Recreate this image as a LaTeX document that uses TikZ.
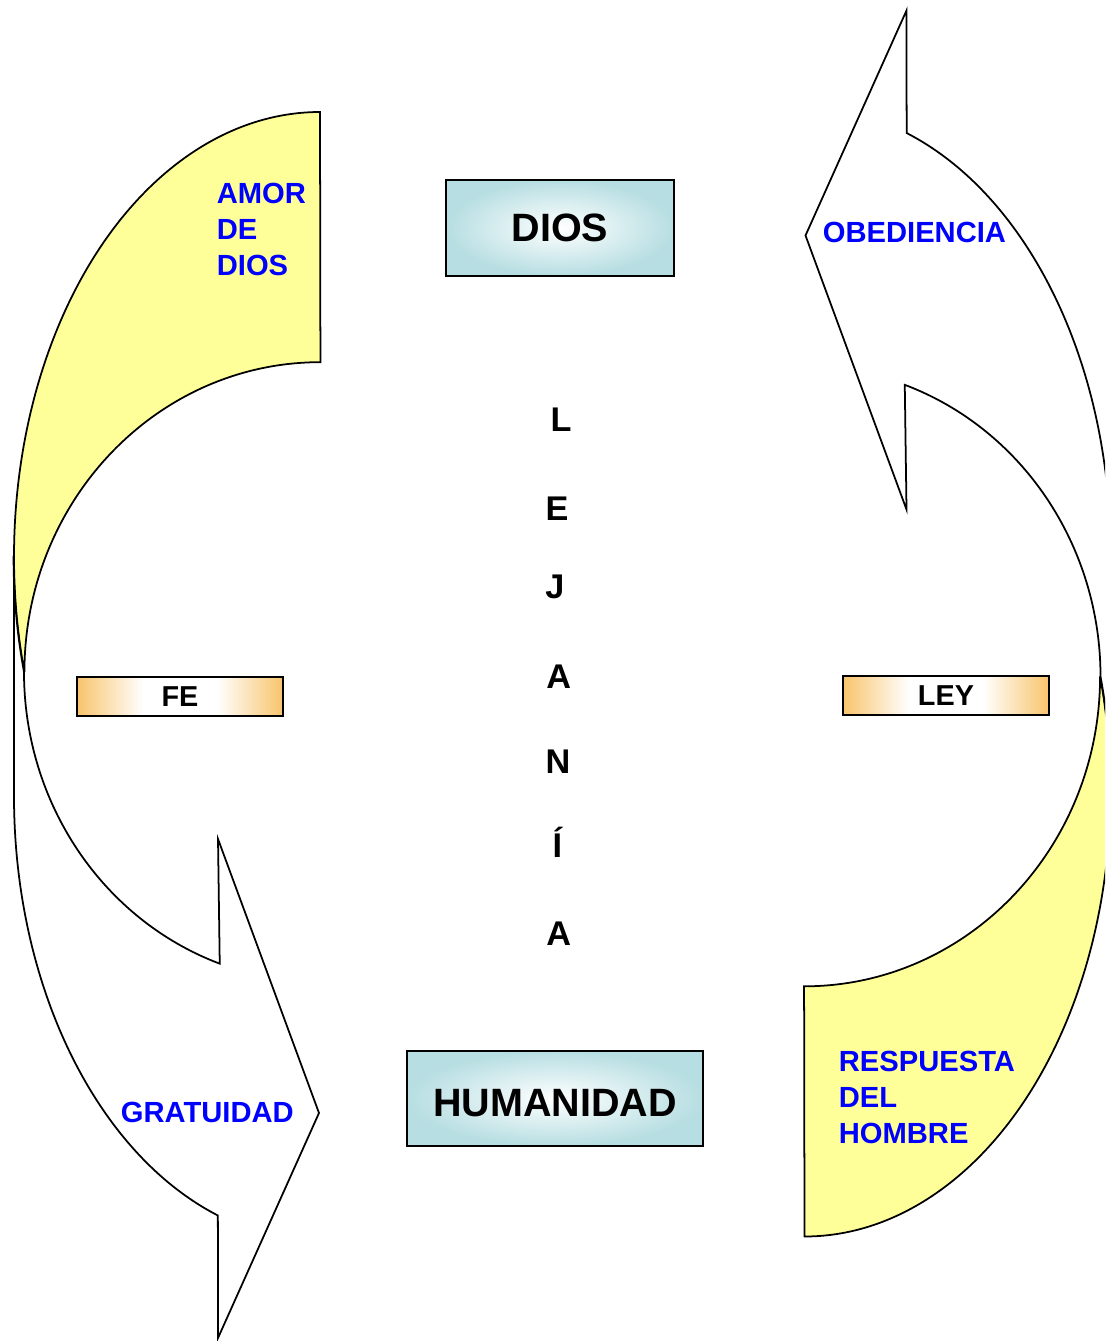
\documentclass[tikz,border=0pt]{standalone}
\usepackage{fontspec}
\setmainfont{Liberation Sans}
\definecolor{bandyellow}{RGB}{255,255,153}
\definecolor{boxteal}{RGB}{183,222,226}
\definecolor{boxorange}{RGB}{248,196,108}
\pgfdeclarehorizontalshading{virtueshade}{100bp}{color(0bp)=(boxorange); color(25bp)=(boxorange); color(41bp)=(white); color(59bp)=(white); color(75bp)=(boxorange); color(100bp)=(boxorange)}
\begin{document}
\begin{tikzpicture}[x=0.02cm, y=0.02cm, line width=1pt,
  backband/.style={draw=black, fill=bandyellow},
  frontband/.style={draw=black, fill=white},
  bluetext/.style={text=blue, inner sep=0pt, align=left, font=\fontsize{16.6}{20.7}\selectfont\bfseries},
  godbox/.style={draw=black, inner color=white, outer color=boxteal, minimum width=4.56cm, minimum height=1.92cm, inner sep=0pt, font=\fontsize{22.5}{27}\selectfont\bfseries},
  virtuebox/.style={draw=black, shading=virtueshade, minimum width=4.12cm, minimum height=0.78cm, inner sep=0pt, font=\fontsize{16.4}{20.7}\selectfont\bfseries},
  letterbox/.style={inner sep=0pt, anchor=base, font=\fontsize{19.5}{23}\selectfont\bfseries}]
\useasboundingbox (0,0) rectangle (1105,-1341);
\clip (0,0) rectangle (1105,-1341);
\begin{scope}
\draw[backband] (320,-112) arc[start angle=90, end angle=195, x radius=306, y radius=445] arc[start angle=180, end angle=90, x radius=296, y radius=310] -- cycle;
\draw[frontband] (14,-557) -- (14,-796) arc[start angle=180, end angle=250.5, x radius=306, y radius=445] -- (218,-1338) -- (319,-1113) -- (218,-839) -- ([shift={(320,-672)}]250.2:296 and 310) arc[start angle=250.2, end angle=180, x radius=296, y radius=310] arc[start angle=195, end angle=180, x radius=306, y radius=445] -- cycle;
\end{scope}
\begin{scope}[rotate around={180:(562.25,-674.25)}]
\draw[backband] (320,-112) arc[start angle=90, end angle=195, x radius=306, y radius=445] arc[start angle=180, end angle=90, x radius=296, y radius=310] -- cycle;
\draw[frontband] (14,-557) -- (14,-796) arc[start angle=180, end angle=250.5, x radius=306, y radius=445] -- (218,-1338) -- (319,-1113) -- (218,-839) -- ([shift={(320,-672)}]250.2:296 and 310) arc[start angle=250.2, end angle=180, x radius=296, y radius=310] arc[start angle=195, end angle=180, x radius=306, y radius=445] -- cycle;
\end{scope}
\node[bluetext, anchor=north west] (amor) at (216,-182) {AMOR\\DE\\DIOS};
\node[bluetext, anchor=base west] (obediencia) at (822,-243) {OBEDIENCIA};
\node[bluetext, anchor=base west] (gratuidad) at (120,-1122) {GRATUIDAD};
\node[bluetext, anchor=north west] (respuesta) at (838,-1050) {RESPUESTA\\DEL\\HOMBRE};
\node[godbox] (dios) at (560,-228) {DIOS};
\node[godbox, minimum width=5.93cm, minimum height=1.9cm, text height=20pt, text depth=0pt] (humanidad) at (555,-1098.5) {HUMANIDAD};
\node[virtuebox] (fe) at (180,-696.5) {FE};
\node[virtuebox] (ley) at (946,-695.5) {LEY};
\node[letterbox] (l1) at (561,-431) {L};
\node[letterbox] (l2) at (557,-520) {E};
\node[letterbox] (l3) at (555,-598) {J};
\node[letterbox] (l4) at (558.7,-688) {A};
\node[letterbox] (l5) at (558,-773) {N};
\node[letterbox] (l6) at (557.5,-857) {Í};
\node[letterbox] (l7) at (558.7,-945) {A};
\end{tikzpicture}
\end{document}
